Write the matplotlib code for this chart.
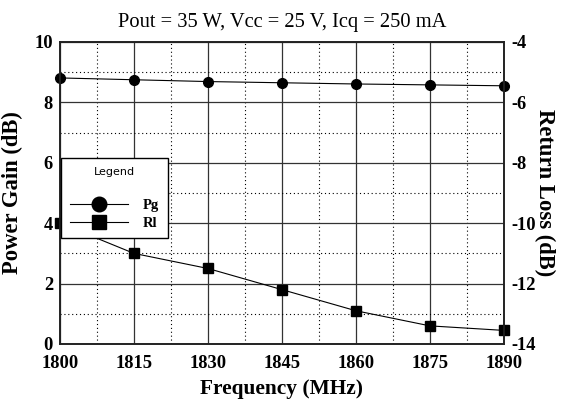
import numpy as np
import matplotlib.pyplot as plt
from matplotlib.ticker import MultipleLocator

plt.rcParams['font.family'] = 'Liberation Serif'
plt.rcParams['axes.unicode_minus'] = False

freq = [1800, 1815, 1830, 1845, 1860, 1875, 1890]
pg = [8.81, 8.75, 8.69, 8.65, 8.61, 8.58, 8.55]
rl = [-10.0, -11.0, -11.5, -12.2, -12.9, -13.4, -13.55]

fig = plt.figure(figsize=(5.75, 4.09), dpi=100)
ax = fig.add_axes([60 / 575, 65 / 409, 444 / 575, 302 / 409])
ax2 = ax.twinx()

ax.set_xlim(1800, 1890)
ax.set_ylim(0, 10)
ax2.set_ylim(-14, -4)

ax.xaxis.set_major_locator(MultipleLocator(15))
ax.xaxis.set_minor_locator(MultipleLocator(7.5))
ax.yaxis.set_major_locator(MultipleLocator(2))
ax.yaxis.set_minor_locator(MultipleLocator(1))
ax2.yaxis.set_major_locator(MultipleLocator(2))

ax.grid(which='major', color='#333333', linewidth=0.9)
ax.grid(which='minor', color='black', linewidth=0.8, linestyle=(0, (1, 2.5)))
ax.set_axisbelow(True)

l1, = ax.plot(freq, pg, '-o', color='black', linewidth=0.8, markersize=7,
              clip_on=False, label='Pg')
l2, = ax2.plot(freq, rl, '-s', color='black', linewidth=0.8, markersize=7,
               clip_on=False, label='Rl')

for a in (ax, ax2):
    a.tick_params(which='both', length=0, labelsize=13.3)
    for lab in a.get_xticklabels() + a.get_yticklabels():
        lab.set_fontweight('bold')
    for s in a.spines.values():
        s.set_linewidth(1.2)
        s.set_color('#222222')
ax.tick_params(axis='y', pad=5)
ax.tick_params(axis='x', pad=8)
ax2.tick_params(axis='y', pad=5)

ax.set_xlabel('Frequency (MHz)', fontsize=15.4, fontweight='bold', labelpad=5)
ax.set_ylabel('Power Gain (dB)', fontsize=16.3, fontweight='bold', labelpad=8)
ax2.set_ylabel('Return Loss (dB)', fontsize=16.3, fontweight='bold', rotation=270, labelpad=14)
ax.set_title('Pout = 35 W, Vcc = 25 V, Icq = 250 mA', fontsize=14.8, pad=10.5)

leg = ax2.legend([l1, l2], ['Pg', 'Rl'], title='Legend', loc='upper left',
                 bbox_to_anchor=(0.002, 0.616), borderaxespad=0, fancybox=False,
                 framealpha=1, edgecolor='black', markerscale=1.5, handlelength=4.0,
                 borderpad=0.6, labelspacing=0.3, handletextpad=1.0,
                 prop={'weight': 'bold', 'size': 10.5})
leg.get_frame().set_linewidth(1.0)
leg.get_title().set_fontfamily('DejaVu Sans')
leg.get_title().set_fontsize(8)
leg._legend_box.sep = 16

fig.savefig('out.png', dpi=100)
